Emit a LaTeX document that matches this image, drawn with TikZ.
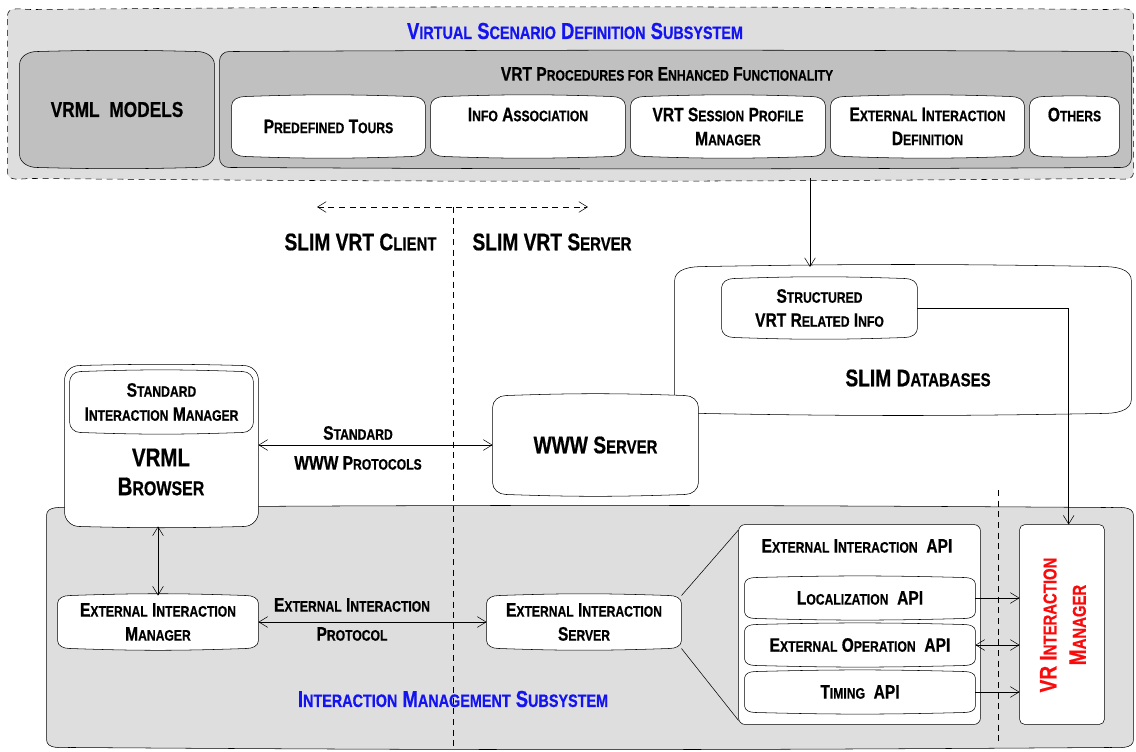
\documentclass[tikz,border=0pt]{standalone}
\usepackage{fontspec}
\setmainfont{Liberation Sans}[FakeStretch=0.8, BoldFeatures={FakeBold=0.6}]
\usetikzlibrary{arrows.meta,calc}
\makeatletter
% fake small caps: lower-case letters typed as capitals at a reduced size
\newcommand\lo[1]{{\fontsize{\the\dimexpr0.78\dimexpr\f@size pt\relax\relax}{\the\baselineskip}\selectfont#1}}
\makeatother
\definecolor{paneA}{RGB}{222,222,222}
\definecolor{paneB}{RGB}{192,192,192}
\definecolor{titleblue}{RGB}{20,20,240}
\definecolor{mgrred}{RGB}{250,10,10}
\pgfdeclarelayer{background}
\pgfsetlayers{background,main}
% box outline with elliptical corners and slightly bulging top/bottom edges
% #1 style, #2 node, #3 corner x-radius, #4 corner y-radius, #5 bend of the long edges
\newcommand\pill[5]{%
  \path[#1] ([yshift=-#4]#2.north west) to[out=90,in=180] ([xshift=#3]#2.north west)
    to[bend left=#5] ([xshift=-#3]#2.north east) to[out=0,in=90] ([yshift=-#4]#2.north east)
    -- ([yshift=#4]#2.south east) to[out=-90,in=0] ([xshift=-#3]#2.south east)
    to[bend left=#5] ([xshift=#3]#2.south west) to[out=180,in=-90] ([yshift=#4]#2.south west)
    -- cycle;}
% node spanning the pixel box (#2,#3)-(#4,#5): name, x1, y1, x2, y2, style, text
\newcommand\bx[7]{\node[frame, #6, minimum width={(#4-#2)*0.75pt}, minimum height={(#5-#3)*0.75pt}]
  (#1) at ({(#2+#4)/2},{(#3+#5)/2}) {#7};}
\tikzset{
  frame/.style={inner sep=0pt, draw=none},
  lbl/.style={font=\bfseries\fontsize{14.6}{18}\selectfont, align=center, inner sep=0pt},
  lbig/.style={font=\bfseries\fontsize{18}{22}\selectfont, align=center, inner sep=0pt},
  lhuge/.style={font=\bfseries\fontsize{19.2}{21.75}\selectfont, align=center, inner sep=0pt},
  lmid/.style={font=\bfseries\fontsize{16.2}{19}\selectfont, align=center},
  ttl/.style={font=\bfseries\fontsize{17.3}{20}\selectfont, text=titleblue, inner sep=0pt},
  lvr/.style={font=\bfseries\fontsize{17.9}{22}\selectfont, text=mgrred, align=center, inner sep=0pt},
  dsh/.style={dash pattern=on 4.5pt off 3.5pt},
  tip/.tip={Straight Barb[length=6.5pt,width=8pt]},
  arr/.style={-tip},
  dbl/.style={tip-tip},
}
\begin{document}
\begin{tikzpicture}[x=0.75pt, y=-0.75pt, line width=0.7pt]
\useasboundingbox (0,0) rectangle (1136,751);

% ---- Virtual Scenario Definition Subsystem ----
\bx{vsds}{8}{10}{1133}{178}{}{}
\node[ttl] (vsdsT) at (575,31) {V\lo{IRTUAL} S\lo{CENARIO} D\lo{EFINITION} S\lo{UBSYSTEM}};
\bx{vm}{20}{52}{214}{167}{lmid}{VRML\hspace{0.45em}MODELS}
\bx{vp}{220}{52}{1131}{167}{}{}
\node[lbl] (vpT) at (667,74) {VRT P\lo{ROCEDURES FOR} E\lo{NHANCED} F\lo{UNCTIONALITY}};
\bx{pt}{232}{97}{425}{156}{lbl}{P\lo{REDEFINED} T\lo{OURS}}
\bx{ia}{431}{97}{625}{156}{lbl}{I\lo{NFO} A\lo{SSOCIATION}\\~}
\bx{sp}{631}{97}{825}{156}{lbl}{VRT S\lo{ESSION} P\lo{ROFILE}\\M\lo{ANAGER}}
\bx{ei}{831}{97}{1024}{156}{lbl}{E\lo{XTERNAL} I\lo{NTERACTION}\\D\lo{EFINITION}}
\bx{ot}{1030}{97}{1119}{156}{lbl}{O\lo{THERS}\\~}

% ---- client / server split ----
\coordinate (cl) at (317,207);
\coordinate (sv) at (588,207);
\coordinate (divtop) at (453,207);
\coordinate (divbot) at (453,751);
\node[lbig, anchor=east] (clt) at (437,242) {SLIM VRT C\lo{LIENT}};
\node[lbig, anchor=west] (svt) at (472,242) {SLIM VRT S\lo{ERVER}};

% ---- databases and web server ----
\bx{db}{675}{267}{1131}{413}{}{}
\node[lbig] (dbT) at (918,378) {SLIM D\lo{ATABASES}};
\bx{st}{722}{279}{917}{337}{lbl}{S\lo{TRUCTURED}\\VRT R\lo{ELATED} I\lo{NFO}}
\coordinate (dbin) at (810,267);
\bx{www}{493}{396}{698}{494}{lbig}{WWW S\lo{ERVER}}

% ---- VRML browser ----
\bx{br}{65}{366}{258}{526}{}{}
\bx{sim}{70}{372}{253}{432}{lbl}{S\lo{TANDARD}\\I\lo{NTERACTION} M\lo{ANAGER}}
\node[lhuge] (brT) at (161,472) {VRML\\B\lo{ROWSER}};
\node[lbl] (wpA) at (358,433) {S\lo{TANDARD}};
\node[lbl] (wpB) at (358,463) {WWW P\lo{ROTOCOLS}};

% ---- Interaction Management Subsystem ----
\bx{ims}{47}{508}{1133}{747}{}{}
\node[ttl] (imsT) at (453,699) {I\lo{NTERACTION} M\lo{ANAGEMENT} S\lo{UBSYSTEM}};
\bx{eim}{58}{596}{258}{648}{lbl}{E\lo{XTERNAL} I\lo{NTERACTION}\\M\lo{ANAGER}}
\bx{eis}{487}{596}{681}{648}{lbl}{E\lo{XTERNAL} I\lo{NTERACTION}\\S\lo{ERVER}}
\node[lbl] (epA) at (352,605) {E\lo{XTERNAL} I\lo{NTERACTION}};
\node[lbl] (epB) at (352,634) {P\lo{ROTOCOL}};
\bx{api}{739}{525}{980}{724}{}{}
\node[lbl] (apiT) at (857,546) {E\lo{XTERNAL} I\lo{NTERACTION}~ API};
\bx{loc}{745}{578}{975}{618}{lbl}{L\lo{OCALIZATION}~ API}
\bx{eop}{745}{625}{975}{665}{lbl}{E\lo{XTERNAL} O\lo{PERATION}~ API}
\bx{tim}{745}{672}{975}{712}{lbl}{T\lo{IMING}~ API}
\bx{vrim}{1020}{525}{1104}{724}{}{}
\node[lvr, rotate=90] (vrimT) at (1063,625) {VR I\lo{NTERACTION}\\M\lo{ANAGER}};
\coordinate (d2t) at (998,490);
\coordinate (d2b) at (998,745);

% ---- box outlines, back to front ----
\begin{pgfonlayer}{background}
\pill{fill=paneA, draw, dsh}{vsds}{18pt}{4.5pt}{0.5}
\pill{fill=paneB, draw}{vm}{13pt}{10pt}{1.5}
\pill{fill=paneB, draw}{vp}{7pt}{7pt}{0.3}
\foreach \b in {pt,ia,sp,ei,ot} {\pill{fill=white, draw}{\b}{10pt}{7pt}{2}}
\pill{fill=white, draw}{db}{22pt}{11pt}{1}
\pill{fill=white, draw}{st}{9pt}{7pt}{2}
\pill{fill=paneA, draw}{ims}{18pt}{6pt}{0.4}
\pill{fill=white, draw}{www}{10pt}{9pt}{2}
\pill{fill=white, draw}{br}{11pt}{11pt}{1.5}
\pill{fill=white, draw}{sim}{8pt}{8pt}{2}
\pill{fill=white, draw}{eim}{9pt}{6pt}{2}
\pill{fill=white, draw}{eis}{9pt}{6pt}{2}
\draw[fill=white, rounded corners=5pt] (api.north west) rectangle (api.south east);
\foreach \b in {loc,eop,tim} {\pill{fill=white, draw}{\b}{8pt}{5pt}{1.5}}
\draw[fill=white, rounded corners=4pt] (vrim.north west) rectangle (vrim.south east);
\end{pgfonlayer}

% ---- connectors ----
\draw[dsh, dbl] (cl) -- (sv);
\draw[dsh] (divtop) -- (divbot);
\draw[dsh] (d2t) -- (d2b);
\draw[arr] (vsds.south -| dbin) -- (dbin);
\draw[arr] (st.east) -| ([xshift=5pt]vrim.north);
\draw[dbl] (www.west -| br.east) -- (www.west);
\draw[dbl] (eim.north |- br.south) -- (eim.north);
\draw[dbl] (eim.east) -- (eis.west);
\draw (eis.north east) -- ([yshift=-4pt]api.north west);
\draw (eis.south east) -- ([yshift=3pt]api.south west);
\draw[arr] (loc.east) -- (loc.east -| vrim.west);
\draw[dbl] (eop.east) -- (eop.east -| vrim.west);
\draw[arr] (tim.east) -- (tim.east -| vrim.west);
\end{tikzpicture}
\end{document}
